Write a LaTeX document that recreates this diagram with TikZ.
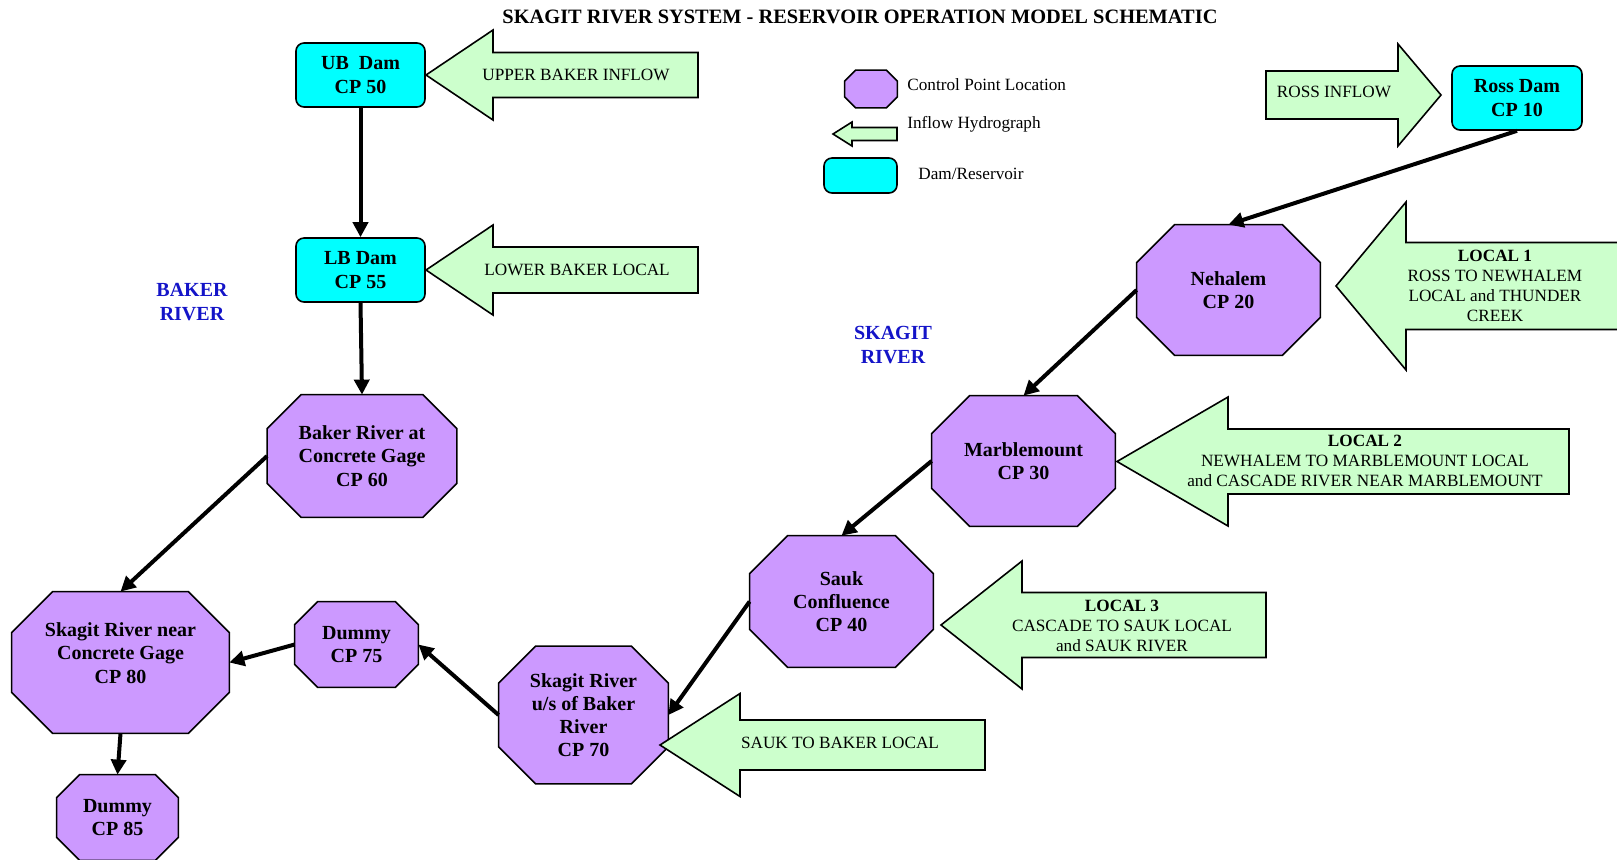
\documentclass[tikz,border=0pt]{standalone}
\usepackage{fontspec}
\setmainfont{Liberation Serif}
\usetikzlibrary{arrows.meta,backgrounds}
\definecolor{damc}{RGB}{0,255,255}
\definecolor{cpc}{RGB}{204,153,255}
\definecolor{inflowc}{RGB}{204,255,204}
\definecolor{rivc}{RGB}{20,20,200}
\tikzset{
 dambox/.style={draw, line width=0.8pt, fill=damc, rounded corners=4pt, inner sep=0pt, align=center, font=\fontsize{10}{11.6}\selectfont\bfseries},
 cpnode/.style={inner sep=0pt, align=center, font=\fontsize{10}{11.6}\selectfont\bfseries},
 octline/.style={draw, line width=0.8pt, fill=cpc},
 inflow/.style={draw, line width=0.8pt, fill=inflowc, line join=miter},
 intext/.style={align=center, font=\fontsize{8.6}{10}\selectfont},
 legtext/.style={anchor=west, inner sep=0pt, font=\fontsize{8.6}{10}\selectfont},
 flow/.style={line width=2pt, -{Triangle[length=7.5pt,width=7.5pt]}},
 river/.style={text=rivc, align=center, font=\fontsize{10}{11.6}\selectfont\bfseries},
}
% octagon around a named node: #1 name, #2 chamfer
\newcommand\octa[2]{%
 \path[octline] ([xshift=#2]#1.north west) -- ([xshift=-#2]#1.north east) -- ([yshift=-#2]#1.north east) -- ([yshift=#2]#1.south east) -- ([xshift=-#2]#1.south east) -- ([xshift=#2]#1.south west) -- ([yshift=#2]#1.south west) -- ([yshift=-#2]#1.north west) -- cycle;}
% block arrow: tip x, tip y, head back x, head half, shaft half, tail x
\newcommand\blockarrow[6]{%
 \path[inflow] (#1,#2) -- (#3,#2-#4) -- (#3,#2-#5) -- (#6,#2-#5) -- (#6,#2+#5) -- (#3,#2+#5) -- (#3,#2+#4) -- cycle;}
\begin{document}
\begin{tikzpicture}[x=0.5pt,y=-0.5pt]
\useasboundingbox (0,0) rectangle (1617,859);

\node[font=\fontsize{10.2}{12}\selectfont\bfseries] (title) at (860,17) {SKAGIT RIVER SYSTEM - RESERVOIR OPERATION MODEL SCHEMATIC};

% inflow block arrows
\blockarrow{426}{75}{493}{45}{22.5}{698}
\blockarrow{426}{270}{493}{45}{23}{698}
\blockarrow{1336}{286}{1406}{84}{43.5}{1640}
\blockarrow{1117}{461.5}{1228}{64.5}{32.5}{1569}
\blockarrow{941}{625}{1022}{64}{32.5}{1266}
\blockarrow{660}{745}{740}{51.5}{25}{985}
\blockarrow{1441}{95}{1398}{51}{24}{1266}
\blockarrow{833}{134}{852}{12}{6.5}{897}

\node[intext] (ubi) at (576,75) {UPPER BAKER INFLOW};
\node[intext] (lbl) at (577,270) {LOWER BAKER LOCAL};
\node[intext] (ri) at (1334,92) {ROSS INFLOW};
\node[intext] (l1) at (1495,286) {\textbf{LOCAL 1}\\ROSS TO NEWHALEM\\LOCAL and THUNDER\\CREEK};
\node[intext] (l2) at (1365,461) {\textbf{LOCAL 2}\\NEWHALEM TO MARBLEMOUNT LOCAL\\and CASCADE RIVER NEAR MARBLEMOUNT};
\node[intext] (l3) at (1122,626) {\textbf{LOCAL 3}\\CASCADE TO SAUK LOCAL\\and SAUK RIVER};
\node[intext] (sbl) at (840,743) {SAUK TO BAKER LOCAL};

% dams
\node[dambox, minimum width=64.5pt, minimum height=32pt] (ub) at (360.5,75) {UB\ \ Dam\\CP 50};
\node[dambox, minimum width=64.5pt, minimum height=32pt] (lb) at (360.5,270) {LB Dam\\CP 55};
\node[dambox, minimum width=65pt, minimum height=32pt] (ross) at (1517,98) {Ross Dam\\CP 10};

% control points
\node[cpnode, minimum width=94.5pt, minimum height=61pt] (cp60) at (362,456) {Baker River at\\Concrete Gage\\CP 60};
\node[cpnode, minimum width=108.5pt, minimum height=70.5pt] (cp80) at (120.5,662.5) {};
\node[cpnode] (cp80t) at (120.5,653) {Skagit River near\\Concrete Gage\\CP 80};
\node[cpnode, minimum width=61.5pt, minimum height=42.5pt] (cp75) at (356.5,644.5) {Dummy\\CP 75};
\node[cpnode, minimum width=60.5pt, minimum height=42.5pt] (cp85) at (117.5,817.5) {Dummy\\CP 85};
\node[cpnode, minimum width=84.5pt, minimum height=68.5pt] (cp70) at (583.5,715) {Skagit River\\u/s of Baker\\River\\CP 70};
\node[cpnode, minimum width=91.5pt, minimum height=65.5pt] (cp40) at (841.5,601.5) {Sauk\\Confluence\\CP 40};
\node[cpnode, minimum width=91.5pt, minimum height=65pt] (cp30) at (1023.5,461) {Marblemount\\CP 30};
\node[cpnode, minimum width=91.5pt, minimum height=65pt] (cp20) at (1228.5,290) {Nehalem\\CP 20};

% legend
\node[cpnode, minimum width=26pt, minimum height=18.5pt] (legcp) at (871,89) {};
\node[dambox, minimum width=36.5pt, minimum height=17.5pt] (legdam) at (860.5,175.5) {};
\node[legtext] (legcpt) at (907,85) {Control Point Location};
\node[legtext] (leginf) at (907,124) {Inflow Hydrograph};
\node[legtext] (legdamt) at (918,174) {Dam/Reservoir};

\begin{scope}[on background layer]
\octa{cp60}{17pt}
\octa{cp80}{20.5pt}
\octa{cp75}{11.5pt}
\octa{cp85}{11.5pt}
\octa{cp70}{18.5pt}
\octa{cp40}{19pt}
\octa{cp30}{19pt}
\octa{cp20}{19pt}
\octa{legcp}{5.5pt}
\end{scope}

% river labels
\node[river] (baker) at (192,302) {BAKER\\RIVER};
\node[river] (skagit) at (893,345) {SKAGIT\\RIVER};

% flow connectors
\draw[flow] (ub.south) -- (lb.north);
\draw[flow] (lb.south) -- (cp60.north);
\draw[flow] (cp60.west) -- (cp80.north);
\draw[flow] (ross.south) -- (cp20.north);
\draw[flow] (cp20.west) -- (cp30.north);
\draw[flow] (cp30.west) -- (cp40.north);
\draw[flow] (cp40.west) -- (cp70.east);
\draw[flow] (cp70.west) -- (cp75.east);
\draw[flow] (cp75.west) -- (cp80.east);
\draw[flow] (cp80.south) -- (cp85.north);
\end{tikzpicture}
\end{document}
